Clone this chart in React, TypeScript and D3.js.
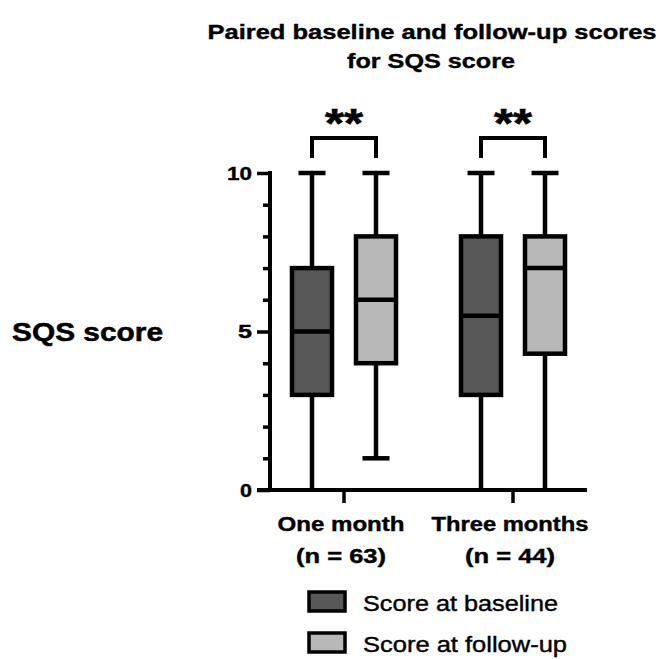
import React, { useEffect, useRef } from 'react';
import * as d3 from 'd3';

// values
const categories = ['One month', 'Three months'];
const sampleSizes = ['(n = 63)', '(n = 44)'];
const seriesNames = ['Score at baseline', 'Score at follow-up'];
const seriesKeys = ['baseline', 'followup'];
const seriesFills = ['#585858', '#b8b8b8'];

// [min, q1, median, q3, max] per category
const baselineStats = [
  [0, 3, 5, 7, 10],
  [0, 3, 5.5, 8, 10],
];
const followupStats = [
  [1, 4, 6, 8, 10],
  [0, 4.3, 7, 8, 10],
];
const significance = ['**', '**'];

const yMajorTicks = [0, 5, 10];
const yMinorTicks = [1, 2, 3, 4, 6, 7, 8, 9];

const App = () => {
  const ref = useRef<SVGSVGElement>(null);

  useEffect(() => {
    const width = 661;
    const height = 659;
    const font = 'Liberation Sans, Arial, sans-serif';

    const svg = d3.select(ref.current);
    svg.selectAll('*').remove();
    svg.attr('width', width).attr('height', height);

    // the reference text is a bit stretched sideways and heavy
    const fit = (sel: any, w: number) =>
      sel.attr('textLength', w).attr('lengthAdjust', 'spacingAndGlyphs');
    const heavy = (sel: any, sw: number) =>
      sel.attr('stroke', '#000').attr('stroke-width', sw).attr('paint-order', 'stroke');

    const y = d3.scaleLinear().domain([0, 10]).range([490, 173]);
    const x = d3.scaleBand().domain(categories).range([259.5, 597.5]);
    const xs = d3
      .scaleBand()
      .domain(seriesKeys)
      .range([x.bandwidth() / 2 - 64, x.bandwidth() / 2 + 64]);
    const boxW = 40;
    const capW = 27;
    const axisX = 270;

    // title
    const title = svg
      .append('g')
      .attr('font-family', font)
      .attr('font-weight', 'bold')
      .attr('font-size', 21)
      .attr('text-anchor', 'middle');
    fit(heavy(title.append('text').attr('x', 432).attr('y', 39).text('Paired baseline and follow-up scores'), 0.4), 449);
    fit(heavy(title.append('text').attr('x', 431).attr('y', 68).text('for SQS score'), 0.4), 168);

    // y title
    const yt = svg
      .append('text')
      .attr('x', 12)
      .attr('y', 341)
      .attr('font-family', font)
      .attr('font-weight', 'bold')
      .attr('font-size', 25)
      .text('SQS score');
    fit(heavy(yt, 0.5), 151);

    // y axis
    const yAxis = svg
      .append('g')
      .attr('transform', `translate(${axisX},0)`)
      .call(d3.axisLeft(y).tickValues(yMajorTicks).tickSize(13).tickSizeOuter(0).tickPadding(5));
    yAxis.select('.domain').attr('stroke', '#000').attr('stroke-width', 4).attr('d', `M0,${y(10) - 2}V${y(0)}`);
    yAxis.selectAll('.tick line').attr('stroke', '#000').attr('stroke-width', 3.5);
    const tickWidths: Record<number, number> = { 0: 12, 5: 14, 10: 25 };
    yAxis
      .selectAll('.tick text')
      .attr('font-family', font)
      .attr('font-weight', 'bold')
      .attr('font-size', 19)
      .attr('fill', '#000')
      .attr('stroke', '#000')
      .attr('stroke-width', 0.4)
      .attr('textLength', (d: any) => tickWidths[d])
      .attr('lengthAdjust', 'spacingAndGlyphs');

    const yMinor = svg
      .append('g')
      .attr('transform', `translate(${axisX},0)`)
      .call(d3.axisLeft(y).tickValues(yMinorTicks).tickSize(7).tickSizeOuter(0).tickFormat(() => ''));
    yMinor.select('.domain').remove();
    yMinor.selectAll('.tick line').attr('stroke', '#000').attr('stroke-width', 3.5);

    // x axis
    svg
      .append('line')
      .attr('x1', axisX - 13)
      .attr('x2', 587)
      .attr('y1', y(0))
      .attr('y2', y(0))
      .attr('stroke', '#000')
      .attr('stroke-width', 4);

    const catWidths = [127, 157];
    const nWidths = [90, 90];
    const xg = svg.append('g');
    categories.forEach((c, i) => {
      const cx = (x(c) as number) + x.bandwidth() / 2;
      xg.append('line')
        .attr('x1', cx)
        .attr('x2', cx)
        .attr('y1', y(0))
        .attr('y2', y(0) + 13)
        .attr('stroke', '#000')
        .attr('stroke-width', 3.5);
      const t1 = xg
        .append('text')
        .attr('x', cx - 3)
        .attr('y', 531)
        .attr('text-anchor', 'middle')
        .attr('font-family', font)
        .attr('font-weight', 'bold')
        .attr('font-size', 20)
        .text(c);
      fit(heavy(t1, 0.4), catWidths[i]);
      const t2 = xg
        .append('text')
        .attr('x', cx - 3)
        .attr('y', 563)
        .attr('text-anchor', 'middle')
        .attr('font-family', font)
        .attr('font-weight', 'bold')
        .attr('font-size', 20)
        .text(sampleSizes[i]);
      fit(heavy(t2, 0.4), nWidths[i]);
    });

    // boxes
    const allStats = [baselineStats, followupStats];
    const boxes = svg.append('g');
    categories.forEach((c, ci) => {
      seriesKeys.forEach((k, si) => {
        const [mn, q1, med, q3, mx] = allStats[si][ci];
        const cx = (x(c) as number) + (xs(k) as number) + xs.bandwidth() / 2;
        const g = boxes.append('g');
        // whiskers
        g.append('line').attr('x1', cx).attr('x2', cx).attr('y1', y(mx)).attr('y2', y(q3))
          .attr('stroke', '#000').attr('stroke-width', 4.5);
        g.append('line').attr('x1', cx).attr('x2', cx).attr('y1', y(q1)).attr('y2', y(mn))
          .attr('stroke', '#000').attr('stroke-width', 4.5);
        g.append('line').attr('x1', cx - capW / 2).attr('x2', cx + capW / 2).attr('y1', y(mx)).attr('y2', y(mx))
          .attr('stroke', '#000').attr('stroke-width', 4.5);
        if (mn > 0) {
          g.append('line').attr('x1', cx - capW / 2).attr('x2', cx + capW / 2).attr('y1', y(mn)).attr('y2', y(mn))
            .attr('stroke', '#000').attr('stroke-width', 4.5);
        }
        g.append('rect')
          .attr('x', cx - boxW / 2)
          .attr('y', y(q3))
          .attr('width', boxW)
          .attr('height', y(q1) - y(q3))
          .attr('fill', seriesFills[si])
          .attr('stroke', '#000')
          .attr('stroke-width', 4.5);
        g.append('line').attr('x1', cx - boxW / 2).attr('x2', cx + boxW / 2).attr('y1', y(med)).attr('y2', y(med))
          .attr('stroke', '#000').attr('stroke-width', 4.5);
      });

      // significance bracket
      const xa = (x(c) as number) + (xs('baseline') as number) + xs.bandwidth() / 2;
      const xb = (x(c) as number) + (xs('followup') as number) + xs.bandwidth() / 2;
      boxes
        .append('path')
        .attr('d', `M${xa},158V138H${xb}V158`)
        .attr('fill', 'none')
        .attr('stroke', '#000')
        .attr('stroke-width', 4);
      const st = boxes
        .append('text')
        .attr('x', (xa + xb) / 2)
        .attr('y', 137)
        .attr('text-anchor', 'middle')
        .attr('font-family', font)
        .attr('font-weight', 'bold')
        .attr('font-size', 40)
        .text(significance[ci]);
      fit(heavy(st, 0.6), 38);
    });

    // legend
    const legendWidths = [195, 204];
    const legend = svg.append('g');
    seriesNames.forEach((name, i) => {
      const ly = 592 + i * 41;
      legend
        .append('rect')
        .attr('x', 309)
        .attr('y', ly)
        .attr('width', 36)
        .attr('height', 19)
        .attr('fill', seriesFills[i])
        .attr('stroke', '#000')
        .attr('stroke-width', 3.5);
      const lt = legend
        .append('text')
        .attr('x', 363)
        .attr('y', ly + 19)
        .attr('font-family', font)
        .attr('font-size', 22)
        .text(name);
      fit(heavy(lt, 0.4), legendWidths[i]);
    });
  }, []);

  return (
    <svg
      ref={ref}
      style={{ position: 'absolute', left: 0, top: 0, background: '#fff' }}
    />
  );
};

export default App;
